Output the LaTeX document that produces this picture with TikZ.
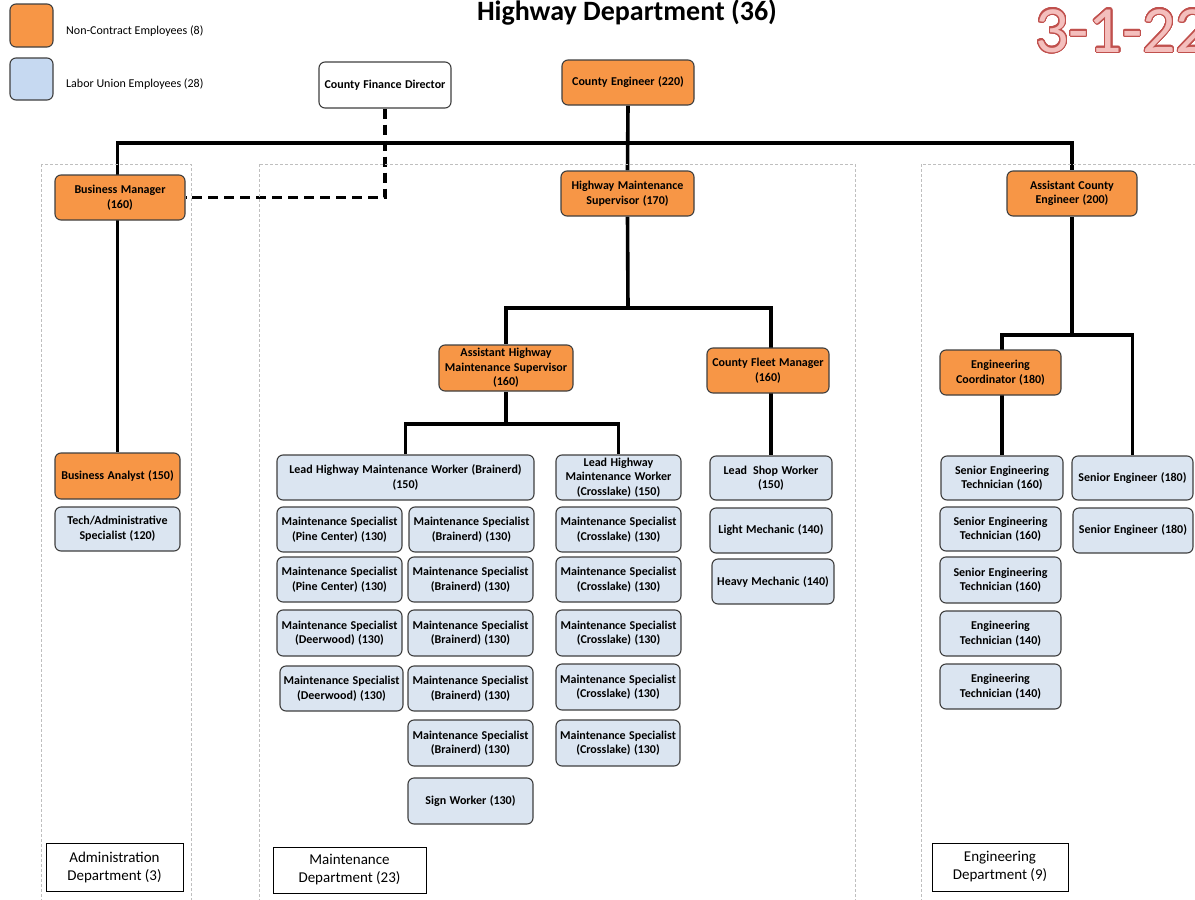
\documentclass[tikz,border=0pt]{standalone}
\usepackage{fontspec}
\setmainfont{Carlito}
\newfontfamily\nodefam{Carlito}[WordSpace=1.25]
\usepackage{contour}
\contourlength{1.2pt}
\contournumber{32}
\usetikzlibrary{backgrounds}
\definecolor{orng}{HTML}{F79646}
\definecolor{lblue}{HTML}{DBE5F1}
\definecolor{legblue}{HTML}{C6D9F1}
\definecolor{bordc}{HTML}{3F3F3F}
\definecolor{datered}{HTML}{C0504D}
\definecolor{datefill}{HTML}{F4BFBD}
\definecolor{deptgray}{HTML}{BFBFBF}
\newcommand{\nodefont}{\nodefam\bfseries\fontsize{12}{14.6}\selectfont}
\newcommand{\deptfont}{\fontsize{15}{18}\selectfont}
\newcommand{\bx}[7]{\node[#1, minimum width={(#5-#3)*1pt}, minimum height={(#6-#4)*1pt}] (#2) at ({(#3+#5)/2},{(#4+#6)/2}) {#7};}
\tikzset{
  box/.style={draw=bordc, line width=1.1pt, rounded corners=6pt, inner sep=1pt, align=center, font=\nodefont},
  obox/.style={box, fill=orng},
  bbox/.style={box, fill=lblue},
  wbox/.style={box, fill=white},
  dbox/.style={draw=black, line width=1pt, fill=white, align=center, inner sep=1pt, font=\deptfont},
  legsq/.style={draw=bordc, line width=1.1pt, rounded corners=6pt},
  conn/.style={line width=3.6pt, line join=miter, black},
  dconn/.style={line width=3.6pt, line join=miter, black, dash pattern=on 10pt off 6pt},
  deptline/.style={draw=deptgray, line width=0.7pt, dash pattern=on 3pt off 2pt},
}
\begin{document}
\begin{tikzpicture}[x=1pt,y=-1pt]
\useasboundingbox (0,0) rectangle (1195,900);
% department frames
\draw[deptline] (41,164) rectangle (191,910);
\draw[deptline] (259,164) rectangle (855,910);
\draw[deptline] (921,164) rectangle (1210,910);
% legend
\draw[legsq, fill=orng] (10,4) rectangle (53,47);
\draw[legsq, fill=legblue] (10,58) rectangle (53,100);
\node[anchor=base west, inner sep=0pt, font=\fontsize{12}{14}\selectfont] (leg1) at (66,34) {Non-Contract Employees (8)};
\node[anchor=base west, inner sep=0pt, font=\fontsize{12}{14}\selectfont] (leg2) at (66,87) {Labor Union Employees (28)};
% title and date
\node[anchor=base, inner sep=0pt, font=\bfseries\fontsize{28}{32}\selectfont] (title) at (627,20) {Highway Department (36)};
\node[anchor=base west, inner sep=0pt, font=\fontsize{66}{70}\selectfont] (date) at (1035,52) {\contour{datered}{\textcolor{datefill}{3-1-22}}};
% top level
\bx{wbox}{cfd}{319}{62}{451}{108}{County Finance Director}
\bx{obox}{ce}{562}{60}{694}{105}{County Engineer (220)}
\bx{obox}{bm}{55}{175}{185}{220}{Business Manager\\(160)}
\bx{obox}{hms}{561}{171}{694}{216}{Highway Maintenance\\Supervisor (170)}
\bx{obox}{ace}{1007}{171}{1137}{216}{Assistant County\\Engineer (200)}
% second level
\bx{obox}{ahms}{439}{345}{573}{391}{Assistant Highway\\Maintenance Supervisor\\(160)}
\bx{obox}{cfm}{707}{348}{829}{393}{County Fleet Manager\\(160)}
\bx{obox}{ec}{940}{350}{1061}{395}{Engineering\\Coordinator (180)}
% administration
\bx{obox}{ba}{55}{453}{180}{499}{Business Analyst (150)}
\bx{bbox}{tas}{55}{507}{180}{551}{Tech/Administrative\\Specialist (120)}
% maintenance
\bx{bbox}{lb}{277}{455}{534}{500}{Lead Highway Maintenance Worker (Brainerd)\\(150)}
\bx{bbox}{lc}{556}{455}{681}{500}{Lead Highway\\Maintenance Worker\\(Crosslake) (150)}
\bx{bbox}{a1}{277}{507}{402}{552}{Maintenance Specialist\\(Pine Center) (130)}
\bx{bbox}{a2}{277}{557}{402}{602}{Maintenance Specialist\\(Pine Center) (130)}
\bx{bbox}{a3}{277}{610}{402}{656}{Maintenance Specialist\\(Deerwood) (130)}
\bx{bbox}{a4}{280}{666}{403}{711}{Maintenance Specialist\\(Deerwood) (130)}
\bx{bbox}{b1}{409}{507}{534}{552}{Maintenance Specialist\\(Brainerd) (130)}
\bx{bbox}{b2}{408}{557}{533}{602}{Maintenance Specialist\\(Brainerd) (130)}
\bx{bbox}{b3}{408}{610}{533}{656}{Maintenance Specialist\\(Brainerd) (130)}
\bx{bbox}{b4}{408}{666}{533}{711}{Maintenance Specialist\\(Brainerd) (130)}
\bx{bbox}{b5}{408}{720}{533}{766}{Maintenance Specialist\\(Brainerd) (130)}
\bx{bbox}{sw}{408}{778}{533}{824}{Sign Worker (130)}
\bx{bbox}{c1}{556}{507}{681}{552}{Maintenance Specialist\\(Crosslake) (130)}
\bx{bbox}{c2}{556}{557}{681}{602}{Maintenance Specialist\\(Crosslake) (130)}
\bx{bbox}{c3}{556}{610}{681}{656}{Maintenance Specialist\\(Crosslake) (130)}
\bx{bbox}{c4}{556}{664}{680}{710}{Maintenance Specialist\\(Crosslake) (130)}
\bx{bbox}{c5}{556}{720}{680}{766}{Maintenance Specialist\\(Crosslake) (130)}
\bx{bbox}{lsw}{710}{456}{832}{500}{Lead\enspace Shop Worker\\(150)}
\bx{bbox}{lm}{710}{508}{832}{553}{Light Mechanic (140)}
\bx{bbox}{hm}{712}{559}{834}{604}{Heavy Mechanic (140)}
% engineering
\bx{bbox}{set1}{941}{456}{1063}{500}{Senior Engineering\\Technician (160)}
\bx{bbox}{set2}{940}{507}{1061}{551}{Senior Engineering\\Technician (160)}
\bx{bbox}{set3}{940}{557}{1061}{603}{Senior Engineering\\Technician (160)}
\bx{bbox}{et1}{940}{611}{1061}{656}{Engineering\\Technician (140)}
\bx{bbox}{et2}{940}{664}{1061}{709}{Engineering\\Technician (140)}
\bx{bbox}{se1}{1072}{456}{1193}{500}{Senior Engineer (180)}
\bx{bbox}{se2}{1073}{508}{1193}{553}{Senior Engineer (180)}
% department labels
\bx{dbox}{dadm}{46}{843}{183}{891}{Administration\\Department (3)}
\bx{dbox}{dmnt}{273}{847}{426}{893}{Maintenance\\Department (23)}
\bx{dbox}{deng}{932}{843}{1068}{891}{Engineering\\Department (9)}
% connectors
\coordinate (busR) at (1072,143);
\coordinate (mbus) at (628,308);
\coordinate (abus) at (506,424);
\coordinate (ebus) at (1072,335);
\begin{pgfonlayer}{background}
\draw[conn] (ce.south) -- (hms.north);
\draw[conn] (ba.north) |- (busR) -- (ace.north);
\draw[dconn] (cfd.south) |- (bm.east);
\draw[conn] (hms.south) -- (mbus);
\draw[conn] (ahms.north) |- (mbus) -| (lsw.north);
\draw[conn] (ahms.south) -- (abus);
\draw[conn] (lb.north) |- (abus) -| (lc.north);
\draw[conn] (ace.south) -- (ebus);
\draw[conn] (set1.north) |- (ebus) -| (se1.north);
\end{pgfonlayer}
\end{tikzpicture}
\end{document}
